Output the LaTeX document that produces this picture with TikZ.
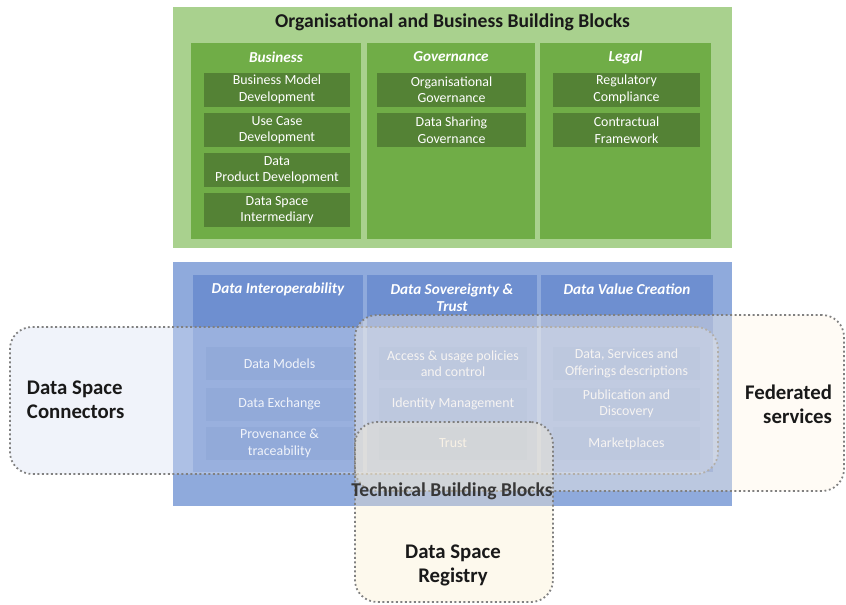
\documentclass[tikz,border=0pt]{standalone}
\usepackage{fontspec}
\setmainfont{Carlito}
\begin{document}
\begin{tikzpicture}[x=1pt,y=-1pt,
  every node/.style={inner sep=0pt,outer sep=0pt,align=center},
  box/.style={draw=none,rectangle},
  gouter/.style={box,fill=GOuter},
  gcol/.style={box,fill=GCol},
  gitem/.style={box,fill=GItem,text=white,font=\fontsize{13.9}{16.5}\selectfont,minimum height=34pt},
  bouter/.style={box,fill=BOuter},
  bcol/.style={box,fill=BCol},
  bitem/.style={box,fill=BItem,text=white,font=\fontsize{13.9}{16.5}\selectfont,minimum height=33pt},
  colhead/.style={text=white,font=\fontsize{15.2}{17}\selectfont\bfseries\itshape},
  region/.style={rounded corners=22pt,draw=DotGrey,line width=1.8pt,dash pattern=on 1.8pt off 2.7pt,fill opacity=0.4},
  biglabel/.style={text=black!90,font=\fontsize{20.8}{24}\selectfont\bfseries},
  title/.style={text=black!90,font=\fontsize{19.6}{22}\selectfont\bfseries}
]
\definecolor{GOuter}{HTML}{A9D18E}
\definecolor{GCol}{HTML}{70AD47}
\definecolor{GItem}{HTML}{548235}
\definecolor{BOuter}{HTML}{8FAADC}
\definecolor{BCol}{HTML}{6E8FD0}
\definecolor{BItem}{HTML}{6384C9}
\definecolor{DotGrey}{HTML}{808080}
\definecolor{ConnFill}{HTML}{DAE3F3}
\definecolor{FedFill}{HTML}{FFF5E6}
\definecolor{RegFill}{HTML}{FCEECE}

\useasboundingbox (0,0) rectangle (846,605);
\fill[white] (0,0) rectangle (846,605);

% ---------- Organisational and Business Building Blocks ----------
\node[gouter,minimum width=559pt,minimum height=241pt] (gblock) at (452.5,127.5) {};
\node[title] (gtitle) at (452.5,22) {Organisational and Business Building Blocks};

\node[gcol,minimum width=170pt,minimum height=196pt] (cbus) at (276,141) {};
\node[gcol,minimum width=168pt,minimum height=196pt] (cgov) at (451,141) {};
\node[gcol,minimum width=171pt,minimum height=196pt] (cleg) at (625.5,141) {};
\node[colhead] (hbus) at (276,57) {Business};
\node[colhead] (hgov) at (451,57) {Governance};
\node[colhead] (hleg) at (625.5,57) {Legal};

\node[gitem,minimum width=146pt] (b1) at (277,89.5) {Business Model\\Development};
\node[gitem,minimum width=146pt] (b2) at (277,130) {Use Case\\Development};
\node[gitem,minimum width=146pt] (b3) at (277,170) {Data\\Product Development};
\node[gitem,minimum width=146pt] (b4) at (277,210) {Data Space\\Intermediary};
\node[gitem,minimum width=149pt] (g1) at (451.5,89.5) {Organisational\\Governance};
\node[gitem,minimum width=149pt] (g2) at (451.5,130) {Data Sharing\\Governance};
\node[gitem,minimum width=147pt] (l1) at (626.5,89.5) {Regulatory\\Compliance};
\node[gitem,minimum width=147pt] (l2) at (626.5,130) {Contractual\\Framework};

% ---------- Technical Building Blocks ----------
\node[bouter,minimum width=559pt,minimum height=244pt] (tblock) at (452.5,384) {};
\node[bcol,minimum width=170pt,minimum height=197pt] (cint) at (278,373.5) {};
\node[bcol,minimum width=170pt,minimum height=197pt] (csov) at (452,373.5) {};
\node[bcol,minimum width=172pt,minimum height=197pt] (cval) at (627,373.5) {};
\node[colhead] (hint) at (278,289) {Data Interoperability};
\node[colhead] (hsov) at (452,297.5) {Data Sovereignty \&\\Trust};
\node[colhead] (hval) at (627,289) {Data Value Creation};

\node[bitem,minimum width=147pt] (i1) at (279.5,363.5) {Data Models};
\node[bitem,minimum width=147pt] (i2) at (279.5,404) {Data Exchange};
\node[bitem,minimum width=147pt] (i3) at (279.5,443.5) {Provenance \&\\traceability};
\node[bitem,minimum width=148pt] (s1) at (453,363.5) {Access \& usage policies\\and control};
\node[bitem,minimum width=148pt] (s2) at (453,404) {Identity Management};
\node[bitem,minimum width=148pt] (s3) at (453,443.5) {Trust};
\node[bitem,minimum width=147pt] (v1) at (626.5,363.5) {Data, Services and\\Offerings descriptions};
\node[bitem,minimum width=147pt] (v2) at (626.5,404) {Publication and\\Discovery};
\node[bitem,minimum width=147pt] (v3) at (626.5,443.5) {Marketplaces};

% ---------- dotted overlay regions ----------
\node[region,fill=ConnFill,minimum width=708pt,minimum height=147pt] (rconn) at (364,400.5) {};
\node[region,fill=FedFill,minimum width=489pt,minimum height=176pt] (rfed) at (599.5,403) {};
\node[region,fill=RegFill,fill opacity=0.35,minimum width=198pt,minimum height=180pt] (rreg) at (454,512) {};

% ---------- labels ----------
\node[title,text=black!78] (ttitle) at (452,491) {Technical Building Blocks};
\node[biglabel,anchor=west,align=left] (lconn) at (27,400) {Data Space\\Connectors};
\node[biglabel,anchor=east,align=right] (lfed) at (832,404) {Federated\\services};
\node[biglabel] (lreg) at (453,565) {Data Space\\Registry};
\end{tikzpicture}
\end{document}
